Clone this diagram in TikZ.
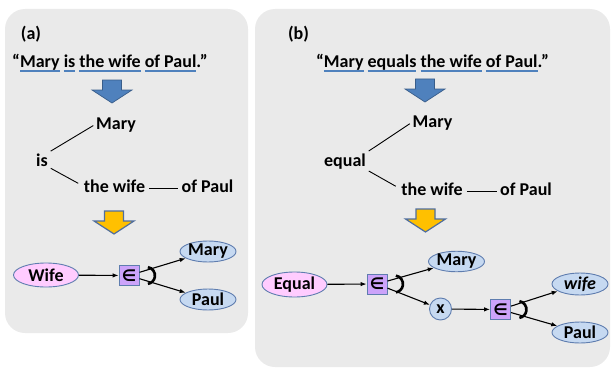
\documentclass[tikz,border=0pt]{standalone}
\usepackage{fontspec}
\setmainfont{Carlito}
\newfontfamily\symfont{DejaVu Sans}
\usetikzlibrary{arrows.meta,shapes.geometric}

\definecolor{panelgray}{RGB}{234,234,234}
\definecolor{ulblue}{RGB}{79,129,189}
\definecolor{arrowblue}{RGB}{79,129,189}
\definecolor{arrowedge}{RGB}{56,93,138}
\definecolor{arrowgold}{RGB}{255,192,0}
\definecolor{goldedge}{RGB}{80,110,158}
\definecolor{nodeblue}{RGB}{198,217,241}
\definecolor{nodepink}{RGB}{255,204,255}
\definecolor{nodelav}{RGB}{204,163,250}
\definecolor{nodeedge}{RGB}{95,125,175}

% underline a group of words with a blue bar
\newcommand\wordline[1]{\setbox0\hbox{#1}\leavevmode\rlap{\textcolor{ulblue}{\rule[-4.5pt]{\wd0}{1.8pt}}}\box0\relax}
% element-of sign
\newcommand\elemsign{{\symfont\bfseries\fontsize{16}{18}\selectfont ∈}}

\tikzset{
  txt/.style={inner sep=1pt, anchor=base},
  treeline/.style={line width=0.9pt, black},
  concept/.style={ellipse, draw=nodeedge, line width=0.9pt, fill=nodeblue, inner sep=0pt,
                  minimum width=56pt, minimum height=21pt},
  relation/.style={concept, fill=nodepink, minimum width=65pt, minimum height=24pt},
  member/.style={rectangle, draw=nodeedge, line width=0.9pt, fill=nodelav, inner sep=0pt,
                 minimum size=20pt},
  varnode/.style={circle, draw=nodeedge, line width=0.9pt, fill=nodeblue, inner sep=0pt,
                  minimum size=22pt},
  arr/.style={line width=1.1pt, -{Latex[length=6pt,width=4.5pt]}},
  andarc/.style={line width=2.6pt},
  bluearrow/.style={fill=arrowblue, draw=arrowedge, line width=0.7pt},
  goldarrow/.style={fill=arrowgold, draw=goldedge, line width=1.2pt},
  pics/blockdown/.style={code={
    \path[#1] (-9.5,0) -- (9.5,0) -- (9.5,10) -- (20,10) -- (0,23) -- (-20,10) -- (-9.5,10) -- cycle;}},
}

\begin{document}
\begin{tikzpicture}[x=1pt, y=-1pt,
  every node/.append style={font=\bfseries\fontsize{18}{21}\selectfont}]
\useasboundingbox (0,0) rectangle (613,369);

% panels
\fill[panelgray, rounded corners=20pt] (5,9) rectangle (248,333);
\fill[panelgray, rounded corners=20pt] (255,9) rectangle (610,367);

% ---------- (a) ----------
\node[txt] (la) at (31,40) {(a)};
\node[txt] (qa) at (110,67) {“\wordline{Mary} \wordline{is} \wordline{the wife} \wordline{of Paul}.”};
\pic at (112,80) {blockdown=bluearrow};

\node[txt] (ma) at (116,129) {Mary};
\node[txt] (isa) at (42,166) {is};
\node[txt] (wa) at (114.5,192) {the wife};
\node[txt] (pa) at (207.5,192) {of Paul};
\draw[treeline, shorten >=2pt, shorten <=2pt] (isa.north east) -- (ma.west);
\draw[treeline, shorten >=5pt, shorten <=2pt] (isa.south east) -- (wa.west);
\draw[treeline, shorten >=2pt, shorten <=3pt] ([yshift=-2.5pt]wa.east) -- ([yshift=-2.5pt]pa.west);

\pic at (114,211) {blockdown=goldarrow};

\node[relation] (wifea) at (46,275) {Wife};
\node[member] (boxa) at (129,275.5) {\elemsign};
\node[concept] (marya) at (208,251.5) {Mary};
\node[concept] (paula) at (208,299.5) {Paul};
\draw[arr] (wifea) -- (boxa);
\draw[arr] (boxa) -- (marya);
\draw[arr] (boxa) -- (paula);
\draw[andarc] (boxa.east) ++(7,0) ++(-80:8.5) arc[start angle=-80, end angle=80, radius=8.5];

% ---------- (b) ----------
\node[txt] (lb) at (298.5,40) {(b)};
\node[txt] (qb) at (432.5,67) {“\wordline{Mary} \wordline{equals} \wordline{the wife} \wordline{of Paul}.”};
\pic at (425,79) {blockdown=bluearrow};

\node[txt] (mb) at (432.5,127) {Mary};
\node[txt] (eqb) at (345,166) {equal};
\node[txt] (wb) at (432,195) {the wife};
\node[txt] (pb) at (526,195) {of Paul};
\draw[treeline, shorten >=2pt, shorten <=2pt] (eqb.north east) -- (mb.west);
\draw[treeline, shorten >=5pt, shorten <=2pt] (eqb.south east) -- (wb.west);
\draw[treeline, shorten >=2pt, shorten <=3pt] ([yshift=-2.5pt]wb.east) -- ([yshift=-2.5pt]pb.west);

\pic at (425.5,209) {blockdown=goldarrow};

\node[relation, minimum height=25pt] (equalb) at (294.5,284.5) {Equal};
\node[member] (boxb1) at (377,284) {\elemsign};
\node[concept, minimum width=55pt, minimum height=20pt] (maryb) at (456.5,261.5) {Mary};
\node[varnode] (xb) at (440.5,309) {x};
\node[member] (boxb2) at (500.5,309.5) {\elemsign};
\node[concept, minimum height=22pt] (wifeb) at (580,284) {\itshape wife};
\node[concept] (paulb) at (580,332.5) {Paul};
\draw[arr] (equalb) -- (boxb1);
\draw[arr] (boxb1) -- (maryb);
\draw[arr] (boxb1) -- (xb);
\draw[arr] (xb) -- (boxb2);
\draw[arr] (boxb2) -- (wifeb);
\draw[arr] (boxb2) -- (paulb);
\draw[andarc] (boxb1.east) ++(7,0) ++(-80:8.5) arc[start angle=-80, end angle=80, radius=8.5];
\draw[andarc] (boxb2.east) ++(7,0) ++(-80:8.5) arc[start angle=-80, end angle=80, radius=8.5];
\end{tikzpicture}
\end{document}
